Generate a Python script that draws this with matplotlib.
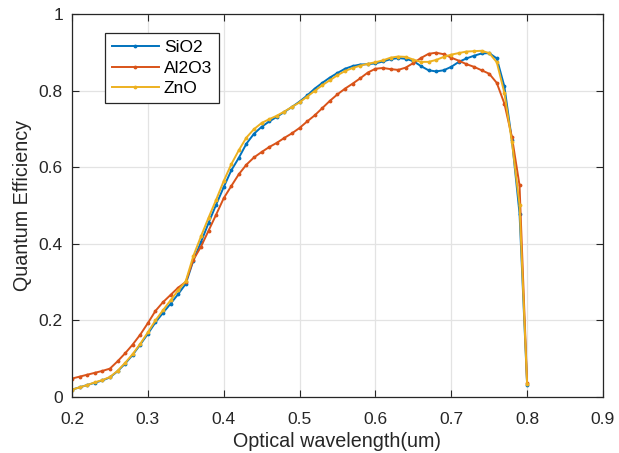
import matplotlib
matplotlib.use("Agg")
import matplotlib.pyplot as plt
import numpy as np

# wavelength grid (um)
wavelength = np.round(np.arange(0.20, 0.805, 0.01), 2)

sio2 = [0.018, 0.024, 0.030, 0.036, 0.042, 0.050, 0.066, 0.086, 0.109, 0.136,
        0.164, 0.194, 0.219, 0.243, 0.268, 0.295, 0.356, 0.404, 0.454, 0.502,
        0.548, 0.592, 0.625, 0.662, 0.688, 0.706, 0.720, 0.732, 0.745, 0.758,
        0.772, 0.788, 0.806, 0.821, 0.835, 0.847, 0.858, 0.865, 0.869, 0.870,
        0.872, 0.877, 0.883, 0.886, 0.884, 0.878, 0.865, 0.854, 0.851, 0.854,
        0.863, 0.876, 0.885, 0.892, 0.898, 0.899, 0.885, 0.812, 0.671, 0.479,
        0.030]

al2o3 = [0.047, 0.052, 0.057, 0.062, 0.067, 0.073, 0.092, 0.113, 0.136, 0.162,
         0.192, 0.224, 0.247, 0.266, 0.285, 0.300, 0.358, 0.392, 0.434, 0.476,
         0.519, 0.551, 0.582, 0.607, 0.626, 0.640, 0.653, 0.664, 0.677, 0.689,
         0.703, 0.720, 0.736, 0.755, 0.774, 0.791, 0.806, 0.819, 0.833, 0.848,
         0.858, 0.860, 0.857, 0.855, 0.861, 0.873, 0.886, 0.897, 0.900, 0.896,
         0.887, 0.879, 0.870, 0.863, 0.854, 0.845, 0.821, 0.767, 0.679, 0.553,
         0.035]

zno = [0.018, 0.024, 0.030, 0.037, 0.043, 0.051, 0.067, 0.088, 0.111, 0.138,
       0.168, 0.199, 0.226, 0.252, 0.278, 0.302, 0.368, 0.419, 0.468, 0.515,
       0.564, 0.608, 0.645, 0.678, 0.700, 0.716, 0.726, 0.735, 0.746, 0.758,
       0.770, 0.785, 0.800, 0.815, 0.828, 0.841, 0.852, 0.860, 0.866, 0.871,
       0.875, 0.880, 0.887, 0.890, 0.889, 0.882, 0.876, 0.876, 0.881, 0.889,
       0.895, 0.899, 0.903, 0.904, 0.905, 0.899, 0.875, 0.795, 0.666, 0.502,
       0.033]

series = [("SiO2", sio2, "#0072BD"),
          ("Al2O3", al2o3, "#D95319"),
          ("ZnO", zno, "#EDB120")]

plt.rcParams['font.family'] = ['Liberation Sans', 'DejaVu Sans']

fig = plt.figure(figsize=(6.19, 4.53), dpi=100)
ax = fig.add_axes([0.1163, 0.1247, 0.8578, 0.8433])

for name, vals, color in series:
    ax.plot(wavelength, vals, color=color, lw=1.4, marker='.', markersize=3.5,
            label=name)

ax.set_xlim(0.2, 0.9)
ax.set_ylim(0, 1)
ax.set_xticks(np.arange(0.2, 0.95, 0.1))
ax.set_xticklabels(["0.2", "0.3", "0.4", "0.5", "0.6", "0.7", "0.8", "0.9"])
ax.set_yticks(np.arange(0, 1.05, 0.2))
ax.set_yticklabels(["0", "0.2", "0.4", "0.6", "0.8", "1"])

ax.grid(True, color="#e3e3e3", lw=0.9)
ax.set_axisbelow(True)
ax.tick_params(direction='in', top=True, right=True, length=5, width=0.8,
               labelsize=12.5, colors="#262626")
ax.tick_params(axis='x', pad=11)
ax.tick_params(axis='y', pad=6.5)
for sp in ax.spines.values():
    sp.set_color("#262626")
    sp.set_linewidth(0.9)

ax.set_xlabel("Optical wavelength(um)", fontsize=14.2, color="#262626",
              labelpad=4)
ax.set_ylabel("Quantum Efficiency", fontsize=14.2, color="#262626",
              labelpad=5)

leg = ax.legend(loc="upper left", bbox_to_anchor=(0.062, 0.951),
                borderaxespad=0, fontsize=12.5, fancybox=False,
                handlelength=2.7, handletextpad=0.3, labelspacing=0.3,
                borderpad=0.4)
leg.get_frame().set_edgecolor("#262626")
leg.get_frame().set_linewidth(0.9)
leg.get_frame().set_alpha(1)

fig.savefig("out.png", dpi=100)
